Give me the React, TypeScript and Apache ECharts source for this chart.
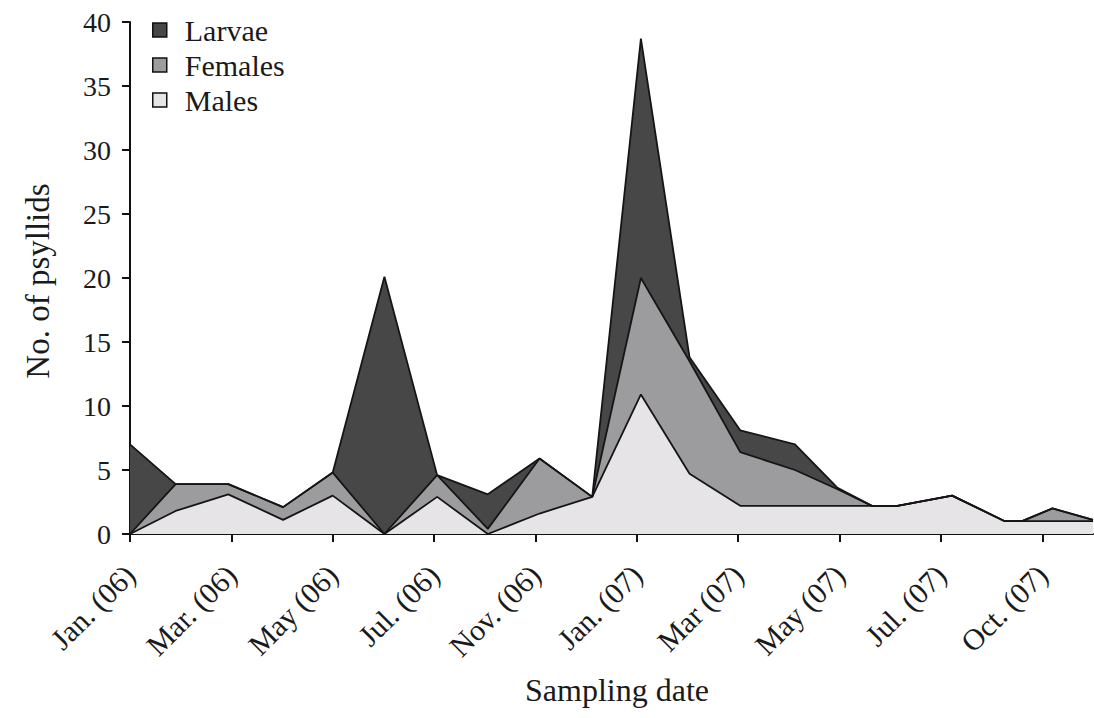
import React, { useEffect, useRef } from 'react';
import * as echarts from 'echarts';

// x positions of sampling dates, in units of the labelled ticks (0 = Jan. (06))
const samplePos = [0, 0.45, 0.97, 1.51, 2.0, 2.51, 3.03, 3.53, 4.04, 4.56, 5.04, 5.52, 6.02, 6.56, 6.98, 7.32, 7.57, 8.11, 8.63, 8.8, 9.1, 9.5];
const males = [0, 1.8, 3.1, 1.1, 3.0, 0, 2.9, 0, 1.6, 2.9, 10.9, 4.7, 2.2, 2.2, 2.2, 2.2, 2.2, 3.0, 1.0, 1.0, 1.0, 1.0];
const females = [0, 2.1, 0.8, 1.0, 1.8, 0, 1.7, 0.4, 4.3, 0, 9.1, 8.8, 4.2, 2.8, 1.3, 0, 0, 0, 0, 0, 1.0, 0.1];
const larvae = [7.0, 0, 0, 0, 0, 20.1, 0, 2.7, 0, 0, 18.7, 0.3, 1.7, 2.0, 0.1, 0, 0, 0, 0, 0, 0, 0];
const tickLabels = ['Jan. (06)', 'Mar. (06)', 'May (06)', 'Jul. (06)', 'Nov. (06)', 'Jan. (07)', 'Mar (07)', 'May (07)', 'Jul. (07)', 'Oct. (07)'];
const seriesNames = ['Larvae', 'Females', 'Males'];
const seriesColors = ['#474747', '#9c9b9d', '#e7e4e8'];

const FONT = "'Liberation Serif', 'Times New Roman', serif";

export default function App() {
  const ref = useRef<HTMLDivElement>(null);
  useEffect(() => {
    if (!ref.current) return;
    const chart = echarts.init(ref.current, undefined, { renderer: 'svg' });
    // stacked totals (areas drawn from the top layer down, each filled to zero)
    const malesFemales = males.map((m, i) => m + females[i]);
    const allTotal = malesFemales.map((v, i) => v + larvae[i]);
    const toPairs = (vals: number[]) => vals.map((v, i) => [samplePos[i], +v.toFixed(2)]);
    const mk = (name: string, vals: number[], color: string) => ({
      name,
      type: 'line',
      data: toPairs(vals),
      showSymbol: false,
      symbol: 'none',
      itemStyle: { color },
      lineStyle: { color: '#151515', width: 1.8 },
      areaStyle: { color, opacity: 1 },
      emphasis: { disabled: true },
    });
    chart.setOption({
      animation: false,
      backgroundColor: '#ffffff',
      textStyle: { fontFamily: FONT },
      grid: { left: 130, right: 1, top: 22, bottom: 184, containLabel: false },
      legend: {
        orient: 'vertical',
        left: 147,
        top: 10,
        itemWidth: 14,
        itemHeight: 14,
        itemGap: 5,
        icon: 'rect',
        selectedMode: false,
        itemStyle: { borderColor: '#111', borderWidth: 1.5 },
        textStyle: { fontFamily: FONT, fontSize: 30, color: '#1a1a1a', lineHeight: 30, padding: [0, 0, 0, 13] },
        data: seriesNames.map((n, i) => ({ name: n, itemStyle: { color: seriesColors[i] } })),
      },
      xAxis: {
        type: 'value',
        min: 0,
        max: 9.5,
        interval: 1,
        splitLine: { show: false },
        axisLine: { show: true, lineStyle: { color: '#111', width: 2 } },
        axisTick: { show: true, length: 8, lineStyle: { color: '#111', width: 2 } },
        axisLabel: {
          rotate: 45,
          margin: 36,
          fontFamily: FONT,
          fontSize: 30,
          color: '#1a1a1a',
          showMaxLabel: false,
          formatter: (v: number) => (Number.isInteger(v) && tickLabels[v] !== undefined ? tickLabels[v] : ''),
        },
      },
      yAxis: {
        type: 'value',
        min: 0,
        max: 40,
        interval: 5,
        splitLine: { show: false },
        axisLine: { show: true, lineStyle: { color: '#111', width: 2 } },
        axisTick: { show: true, length: 8, lineStyle: { color: '#111', width: 2 } },
        axisLabel: { margin: 19, fontFamily: FONT, fontSize: 28, color: '#1a1a1a' },
      },
      graphic: [
        {
          type: 'text',
          x: 38,
          y: 281,
          rotation: Math.PI / 2,
          style: { text: 'No. of psyllids', fontFamily: 'Liberation Serif', fontSize: 33, fill: '#1a1a1a', textAlign: 'center', textVerticalAlign: 'middle' },
        },
        {
          type: 'text',
          x: 617,
          y: 690,
          style: { text: 'Sampling date', fontFamily: 'Liberation Serif', fontSize: 32, fill: '#1a1a1a', textAlign: 'center', textVerticalAlign: 'middle' },
        },
      ],
      series: [
        mk('Larvae', allTotal, seriesColors[0]),
        mk('Females', malesFemales, seriesColors[1]),
        mk('Males', males, seriesColors[2]),
      ],
    });
    return () => chart.dispose();
  }, []);
  return <div ref={ref} style={{ position: 'fixed', left: 0, top: 0, width: 1094, height: 718 }} />;
}
